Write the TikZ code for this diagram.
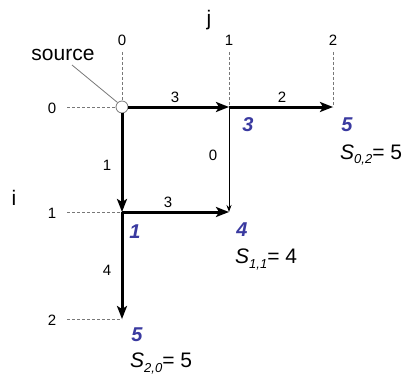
\documentclass[tikz,border=0pt]{standalone}
\usepackage{fontspec}
\setmainfont{Liberation Sans}
\usetikzlibrary{arrows.meta}
\definecolor{numblue}{RGB}{58,58,160}
\definecolor{dashgray}{RGB}{120,120,120}
\begin{document}
\begin{tikzpicture}[x=1pt,y=-1pt,
  small/.style={font=\fontsize{15}{17}\selectfont, inner sep=0pt},
  big/.style={font=\fontsize{21}{24}\selectfont, inner sep=0pt},
  bluenum/.style={font=\fontsize{20}{22}\selectfont\bfseries\itshape, text=numblue, inner sep=0pt},
  slabel/.style={font=\fontsize{21}{24}\selectfont, inner sep=0pt, anchor=west},
  guide/.style={dashgray, line width=0.8pt, dash pattern=on 3pt off 2pt},
  thickarrow/.style={line width=3pt, -{Stealth[length=13pt,width=10pt,inset=3pt]}},
  thinarrow/.style={line width=0.9pt, -{Stealth[length=7pt,width=5pt]}},
  pt/.style={inner sep=0pt, minimum size=0pt}
]
\useasboundingbox (0,0) rectangle (411,377);
% grid points
\node[circle, draw=dashgray, fill=white, line width=0.8pt, minimum size=12pt, inner sep=0pt] (src) at (122,107) {};
\coordinate (c01) at (229,107);
\coordinate (c02) at (333,107);
\coordinate (c10) at (122,212);
\coordinate (c11) at (229,212);
\coordinate (c20) at (122,319);
% axis labels
\node[big] (jlab) at (209,20) {j};
\node[big] (ilab) at (14,198) {i};
\node[small] (col0) at (122,40) {0};
\node[small] (col1) at (229,40) {1};
\node[small] (col2) at (333,40) {2};
\node[small] (row0) at (52,108) {0};
\node[small] (row1) at (52,213) {1};
\node[small] (row2) at (52,320) {2};
\coordinate (col0b) at (122,52);
\coordinate (col1b) at (229,52);
\coordinate (col2b) at (333,52);
\coordinate (row0b) at (67,107);
\coordinate (row1b) at (67,212);
\coordinate (row2b) at (67,319);
% guide lines
\draw[guide] (col0b) -- (src.north);
\draw[guide] (col1b) -- (c01);
\draw[guide] (col2b) -- (c02);
\draw[guide] (row0b) -- (src.west);
\draw[guide] (row1b) -- (c10);
\draw[guide] (row2b) -- (c20);
% source label
\node[big] (srclab) at (63,55) {source};
\coordinate (srcline) at (72,65);
\draw[dashgray, line width=0.8pt] (srcline) -- (src.north west);
% edges
\draw[thinarrow] (c01) -- (c11);
\draw[thickarrow] (src.east) -- (c01);
\draw[thickarrow] (c01) -- (c02);
\draw[thickarrow] (src.south) -- (c10);
\draw[thickarrow] (c10) -- (c11);
\draw[thickarrow] (c10) -- (c20);
% edge labels
\node[small] (e1) at (175,97) {3};
\node[small] (e2) at (282,97) {2};
\node[small] (e3) at (213,155) {0};
\node[small] (e4) at (107,165) {1};
\node[small] (e5) at (168,202) {3};
\node[small] (e6) at (107,270) {4};
% blue numbers
\node[bluenum] (b01) at (248,125) {3};
\node[bluenum] (b02) at (347,125) {5};
\node[bluenum] (b10) at (135,232) {1};
\node[bluenum] (b11) at (242,230) {4};
\node[bluenum] (b20) at (137,335) {5};
% S labels
\node[slabel] (s02) at (340,155) {\itshape S\raisebox{-0.45ex}{\fontsize{13}{14}\selectfont 0,2}\upshape= 5};
\node[slabel] (s11) at (235,259) {\itshape S\raisebox{-0.45ex}{\fontsize{13}{14}\selectfont 1,1}\upshape= 4};
\node[slabel] (s20) at (130,363) {\itshape S\raisebox{-0.45ex}{\fontsize{13}{14}\selectfont 2,0}\upshape= 5};
\end{tikzpicture}
\end{document}
